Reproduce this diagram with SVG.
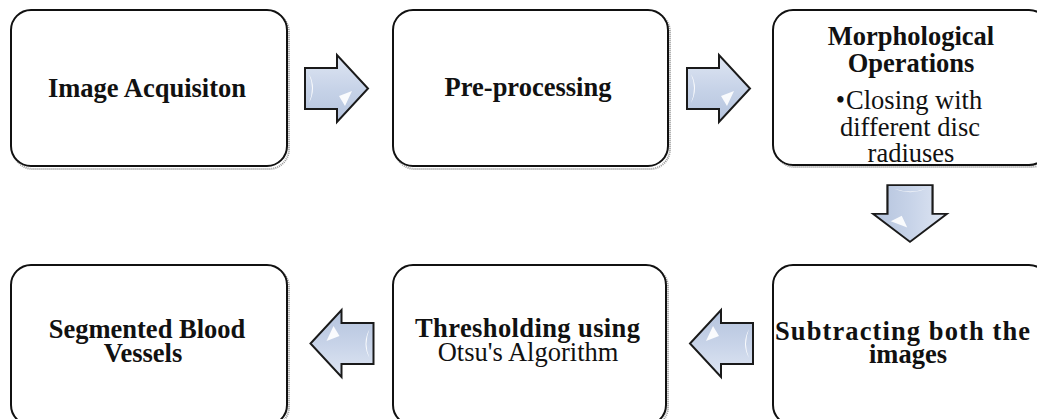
<svg xmlns="http://www.w3.org/2000/svg" width="1037" height="419" viewBox="0 0 1037 419">
<style>
.box{fill:#fff;stroke:#111;stroke-width:2}
.shadow{fill:none;stroke:#9a9a9a;stroke-width:2;stroke-dasharray:1 1}
.b{font-family:"Liberation Serif","Times New Roman",serif;font-weight:bold;font-size:26.5px;fill:#111}
.r{font-family:"Liberation Serif","Times New Roman",serif;font-size:26.5px;fill:#111}
.arr{fill:url(#ag);stroke:#1a1a1a;stroke-width:2;stroke-linejoin:miter}
.hl{fill:#fff;opacity:0.9}
</style>
<defs>
<linearGradient id="ag" x1="0" y1="0" x2="0" y2="1">
<stop offset="0" stop-color="#dfe6f3"/>
<stop offset="0.5" stop-color="#c7d3e8"/>
<stop offset="1" stop-color="#b4c3dd"/>
</linearGradient>
<g id="arrow">
<path class="arr" d="M0,13 L32,13 L32,0 L63,33.5 L32,67 L32,54 L0,54 Z"/>
<path class="hl" d="M4,19 Q10,33 4,48 Q12,33 4,19 Z"/>
<path class="hl" d="M34,41 L47,36 L40,51 Z" opacity="0.8"/>
</g>
</defs>

<g id="node-image-acquisition">
<rect class="shadow" x="13" y="12" width="276" height="157" rx="20"/>
<rect class="box" x="11" y="10" width="276" height="156" rx="20"/>
<text class="b" x="147" y="97" text-anchor="middle">Image Acquisiton</text>
</g>

<g id="node-preprocessing">
<rect class="shadow" x="395" y="12" width="275" height="157" rx="20"/>
<rect class="box" x="393" y="10" width="275" height="156" rx="20"/>
<text class="b" x="528" y="96" text-anchor="middle">Pre-processing</text>
</g>

<g id="node-morphological">
<rect class="shadow" x="775" y="12" width="276" height="155" rx="20"/>
<rect class="box" x="773" y="10" width="276" height="155" rx="20"/>
<text class="b" x="911" y="45" text-anchor="middle">Morphological</text>
<text class="b" x="911" y="72" text-anchor="middle">Operations</text>
<text class="r" x="909" y="109" text-anchor="middle"><tspan>•</tspan><tspan dx="1">Closing with</tspan></text>
<text class="r" x="910" y="136" text-anchor="middle">different disc</text>
<text class="r" x="911" y="162" text-anchor="middle">radiuses</text>
</g>

<g id="node-subtracting">
<rect class="shadow" x="775" y="267" width="276" height="160" rx="20"/>
<rect class="box" x="773" y="265" width="276" height="160" rx="20"/>
<text class="b" x="775" y="340" textLength="255" lengthAdjust="spacing">Subtracting both the</text>
<text class="b" x="908" y="363" text-anchor="middle">images</text>
</g>

<g id="node-thresholding">
<rect class="shadow" x="395" y="267" width="273" height="160" rx="20"/>
<rect class="box" x="393" y="265" width="273" height="160" rx="20"/>
<text class="b" x="415" y="337" textLength="225" lengthAdjust="spacing">Thresholding using</text>
<text class="r" x="528" y="361" text-anchor="middle">Otsu's Algorithm</text>
</g>

<g id="node-segmented">
<rect class="shadow" x="13" y="267" width="276" height="160" rx="20"/>
<rect class="box" x="11" y="265" width="276" height="160" rx="20"/>
<text class="b" x="147" y="338" text-anchor="middle">Segmented Blood</text>
<text class="b" x="143" y="362" text-anchor="middle">Vessels</text>
</g>

<g id="connectors">
<use href="#arrow" transform="translate(305,55)"/>
<use href="#arrow" transform="translate(687,55)"/>
<use href="#arrow" transform="translate(910,213.5) rotate(90) scale(0.9,1.1) translate(-31.5,-33.5)"/>
<use href="#arrow" transform="translate(721.5,343.5) rotate(180) translate(-31.5,-33.5)"/>
<use href="#arrow" transform="translate(342,343.5) rotate(180) translate(-31.5,-33.5)"/>
</g>
</svg>
